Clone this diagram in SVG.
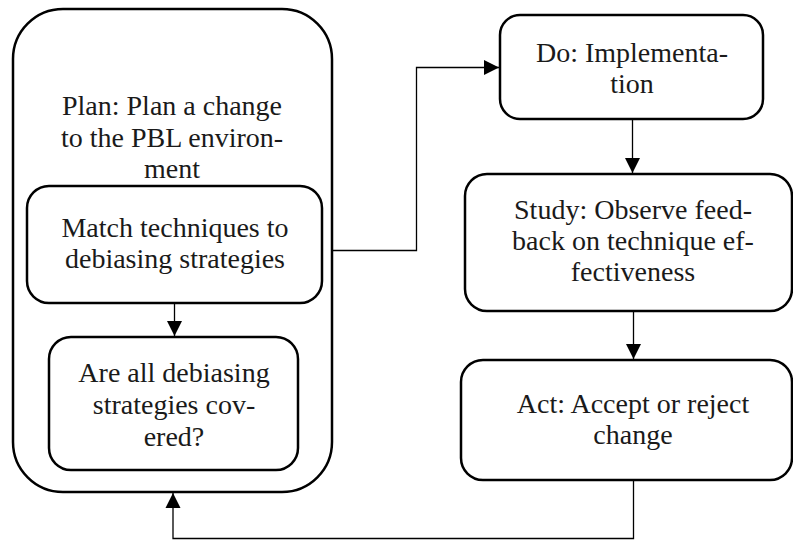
<svg xmlns="http://www.w3.org/2000/svg" width="793" height="540" viewBox="0 0 793 540">
<style>
.box{fill:#fff;stroke:#000;stroke-width:2.5}
.c{fill:none;stroke:#000;stroke-width:1.3}
.t{font-family:'Liberation Serif','Times New Roman','Noto Serif','DejaVu Serif',Times,serif;font-size:28px;fill:#1a1a1a;text-anchor:middle}
</style>
<defs>
<marker id="ah" markerUnits="userSpaceOnUse" markerWidth="16" markerHeight="16" viewBox="0 0 16 16" refX="15" refY="8" orient="auto">
<path d="M0,0.5 L15,8 L0,15.5 Z" fill="#000"/>
</marker>
</defs>
<g id="plan">
<rect class="box" x="13" y="9" width="319" height="483" rx="50"/>
<text class="t" x="172" y="115">Plan: Plan a change</text>
<text class="t" x="172" y="147">to the PBL environ-</text>
<text class="t" x="172" y="178">ment</text>
</g>
<g id="match">
<rect class="box" x="27" y="186" width="295" height="117" rx="22"/>
<text class="t" x="175" y="237">Match techniques to</text>
<text class="t" x="175" y="268">debiasing strategies</text>
</g>
<g id="covered">
<rect class="box" x="49" y="337" width="249" height="133" rx="22"/>
<text class="t" x="174" y="382">Are all debiasing</text>
<text class="t" x="174" y="414">strategies cov-</text>
<text class="t" x="174" y="446">ered?</text>
</g>
<g id="do">
<rect class="box" x="500" y="15" width="263" height="104" rx="20"/>
<text class="t" x="632" y="62">Do: Implementa-</text>
<text class="t" x="632" y="93">tion</text>
</g>
<g id="study">
<rect class="box" x="465" y="174" width="327" height="137" rx="22"/>
<text class="t" x="633" y="219">Study: Observe feed-</text>
<text class="t" x="633" y="250">back on technique ef-</text>
<text class="t" x="633" y="281">fectiveness</text>
</g>
<g id="act">
<rect class="box" x="461" y="360" width="331" height="120" rx="22"/>
<text class="t" x="633" y="413">Act: Accept or reject</text>
<text class="t" x="633" y="444">change</text>
</g>
<g id="connectors">
<path class="c" d="M333,250.5 H416.5 V67.5 H499" marker-end="url(#ah)"/>
<path class="c" d="M174.5,303 V336" marker-end="url(#ah)"/>
<path class="c" d="M632.5,119 V173" marker-end="url(#ah)"/>
<path class="c" d="M633.5,311 V359" marker-end="url(#ah)"/>
<path class="c" d="M633.5,481 V538.5 H173 V493" marker-end="url(#ah)"/>
</g>
</svg>
